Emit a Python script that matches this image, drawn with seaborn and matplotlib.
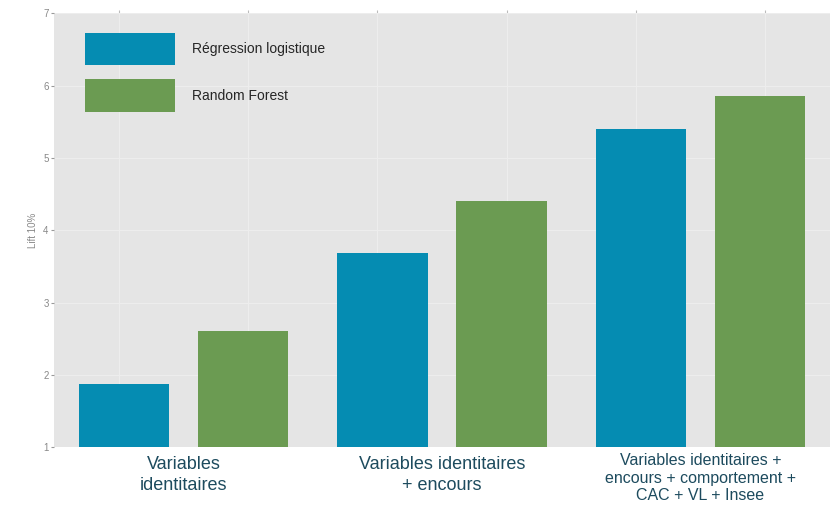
import matplotlib
matplotlib.use("Agg")
import matplotlib.pyplot as plt
import pandas as pd
import seaborn as sns

# data
groupes = [
    "Variables\nidentitaires",
    "Variables identitaires\n+ encours",
    "Variables identitaires +\nencours + comportement +\nCAC + VL + Insee",
]
modeles = ["Régression logistique", "Random Forest"]
lift_reglog = [1.87, 3.68, 5.40]
lift_rf = [2.61, 4.40, 5.85]
couleurs = ["#058CB2", "#6B9B52"]

df = pd.DataFrame({
    "groupe": groupes * 2,
    "modele": [modeles[0]] * 3 + [modeles[1]] * 3,
    "lift": lift_reglog + lift_rf,
})

sns.set_style("darkgrid", rc={
    "axes.facecolor": "#E5E5E5",
    "grid.color": "#EDEDED",
    "grid.linewidth": 1.2,
    "axes.edgecolor": "#E5E5E5",
})
plt.rcParams["font.family"] = ["Liberation Sans", "DejaVu Sans"]

fig = plt.figure(figsize=(8.34, 5.07), dpi=100)
ax = fig.add_axes([0.065, 0.118, 0.93, 0.856])

sns.barplot(data=df, x="groupe", y="lift", hue="modele", palette=couleurs,
            width=0.92, gap=0.24, ax=ax, saturation=1, edgecolor="none")

ax.set_ylim(1, 7)
ax.set_xlim(-0.5, 2.5)
ax.set_yticks(range(1, 8))
ax.set_xticks([-0.25 + 0.5 * k for k in range(6)])
ax.set_xticklabels([])
ax.grid(True, axis="both")
ax.set_axisbelow(True)
for s in ax.spines.values():
    s.set_visible(False)

ax.tick_params(axis="y", left=True, length=2, color="#999999", labelsize=7,
               labelcolor="#888888", pad=2)
ax.tick_params(axis="x", bottom=False, top=True, length=2, color="#bbbbbb")
ax.set_xlabel("")
ax.set_ylabel("Lift 10%", fontsize=7, color="#888888", labelpad=4)

# libellés des groupes sous l'axe
tailles = [13, 13, 11.5]
interlignes = [1.3, 1.3, 1.2]
decalages = [-0.02, -0.02, -0.014]
for i, (g, t, l, d) in enumerate(zip(groupes, tailles, interlignes, decalages)):
    ax.text(i, d, g, transform=ax.get_xaxis_transform(), ha="center",
            va="top", fontsize=t, color="#1D4B5E", linespacing=l)

handles, labels = ax.get_legend_handles_labels()
ax.legend(handles, labels, loc="upper left", bbox_to_anchor=(0.032, 0.968),
          frameon=False, fontsize=10, handlelength=6.5, handleheight=3.25,
          labelspacing=1.0, handletextpad=1.25, borderaxespad=0)

fig.savefig("out.png", dpi=100)
